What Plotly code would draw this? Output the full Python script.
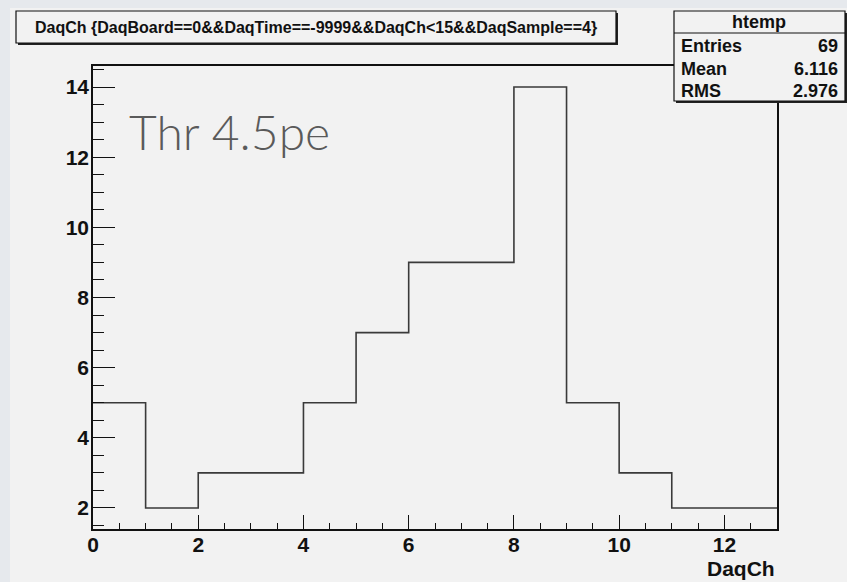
import plotly.graph_objects as go

# ---- data ----
bin_edges = [0, 1, 2, 3, 4, 5, 6, 7, 8, 9, 10, 11, 12, 13]
counts = [5, 2, 3, 3, 5, 7, 9, 9, 14, 5, 3, 2, 2]
x_ticks = [0, 2, 4, 6, 8, 10, 12]
y_ticks = [2, 4, 6, 8, 10, 12, 14]
title_text = "DaqCh {DaqBoard==0&&DaqTime==-9999&&DaqCh<15&&DaqSample==4}"
stats_name = "htemp"
stats_rows = [("Entries", "69"), ("Mean", "6.116"), ("RMS", "2.976")]
x_title = "DaqCh"
note_text = "Thr 4.5pe"

W, H = 847, 582
L, R, T, B = 93, 70, 66, 53
PW, PH = W - L - R, H - T - B


def px(xp):
    return (xp - L) / PW


def py(yp):
    return (H - B - yp) / PH


xs = bin_edges[:]
ys = counts + [counts[-1]]

fig = go.Figure()
fig.add_trace(go.Scatter(
    x=xs, y=ys, mode="lines", line=dict(shape="hv", color="#3a3a3a", width=1.6),
    hoverinfo="skip", showlegend=False,
))

FONT = "Liberation Sans, Arial, sans-serif"
shapes = []
# outer canvas
shapes.append(dict(type="rect", xref="paper", yref="paper", x0=px(10), x1=px(W + 5), y0=py(8), y1=py(H + 5),
                   fillcolor="#f2f2f2", line=dict(width=0), layer="below"))
# title box shadow + box
shapes.append(dict(type="rect", xref="paper", yref="paper", x0=px(18), x1=px(618), y0=py(13), y1=py(45),
                   fillcolor="#222222", line=dict(width=0), layer="above"))
shapes.append(dict(type="rect", xref="paper", yref="paper", x0=px(16), x1=px(616), y0=py(11), y1=py(43),
                   fillcolor="#f2f2f2", line=dict(color="#111111", width=1.2), layer="above"))
# stats box shadow + box
shapes.append(dict(type="rect", xref="paper", yref="paper", x0=px(676), x1=px(847), y0=py(13), y1=py(103),
                   fillcolor="#222222", line=dict(width=0), layer="above"))
shapes.append(dict(type="rect", xref="paper", yref="paper", x0=px(674), x1=px(845), y0=py(11), y1=py(101),
                   fillcolor="#f2f2f2", line=dict(color="#111111", width=1.2), layer="above"))
shapes.append(dict(type="line", xref="paper", yref="paper", x0=px(674), x1=px(845), y0=py(33), y1=py(33),
                   line=dict(color="#111111", width=1.2), layer="above"))

annotations = []
annotations.append(dict(xref="paper", yref="paper", x=px(316), y=py(27), text=title_text, showarrow=False,
                        xanchor="center", yanchor="middle",
                        font=dict(family=FONT, size=16, color="#111111", weight="bold")))
annotations.append(dict(xref="paper", yref="paper", x=px(759), y=py(22), text=stats_name, showarrow=False,
                        xanchor="center", yanchor="middle",
                        font=dict(family=FONT, size=18, color="#111111", weight="bold")))
row_y = [46, 69, 91]
for (k, v), yy in zip(stats_rows, row_y):
    annotations.append(dict(xref="paper", yref="paper", x=px(679), y=py(yy), text=k, showarrow=False,
                            xanchor="left", yanchor="middle",
                            font=dict(family=FONT, size=18, color="#111111", weight="bold")))
    annotations.append(dict(xref="paper", yref="paper", x=px(840), y=py(yy), text=v, showarrow=False,
                            xanchor="right", yanchor="middle",
                            font=dict(family=FONT, size=18, color="#111111", weight="bold")))
annotations.append(dict(xref="paper", yref="paper", x=1.0, y=py(568), text=x_title, showarrow=False,
                        xanchor="right", yanchor="middle",
                        font=dict(family=FONT, size=21, color="#111111", weight="bold")))
annotations.append(dict(xref="paper", yref="paper", x=px(127), y=py(132), text=note_text, showarrow=False,
                        xanchor="left", yanchor="middle",
                        font=dict(family="Lato, sans-serif", size=48, color="#5a5a5a", weight=300)))

fig.update_layout(
    width=W, height=H,
    margin=dict(l=L, r=R, t=T, b=B, pad=0),
    paper_bgcolor="#e6e9ed",
    plot_bgcolor="#f2f2f2",
    shapes=shapes,
    annotations=annotations,
    xaxis=dict(
        range=[0, 13], tickvals=x_ticks, ticktext=[str(v) for v in x_ticks],
        ticks="inside", ticklen=14, tickwidth=1.3, tickcolor="#111111",
        minor=dict(ticks="inside", ticklen=6, dtick=0.5, tick0=0, tickwidth=1.2, tickcolor="#111111", showgrid=False),
        showline=True, linecolor="#111111", linewidth=1.5, mirror=True,
        showgrid=False, zeroline=False,
        tickfont=dict(family=FONT, size=21, color="#111111", weight="bold"),
        ticklabelstandoff=-4,
    ),
    yaxis=dict(
        range=[1.4, 14.6], tickvals=y_ticks, ticktext=[str(v) for v in y_ticks],
        ticks="inside", ticklen=22, tickwidth=1.3, tickcolor="#111111",
        minor=dict(ticks="inside", ticklen=11, dtick=0.5, tick0=0, tickwidth=1.2, tickcolor="#111111", showgrid=False),
        showline=True, linecolor="#111111", linewidth=1.5, mirror=True,
        showgrid=False, zeroline=False,
        tickfont=dict(family=FONT, size=21, color="#111111", weight="bold"),
        ticklabelstandoff=-2,
    ),
)

fig.write_html("out.html")
